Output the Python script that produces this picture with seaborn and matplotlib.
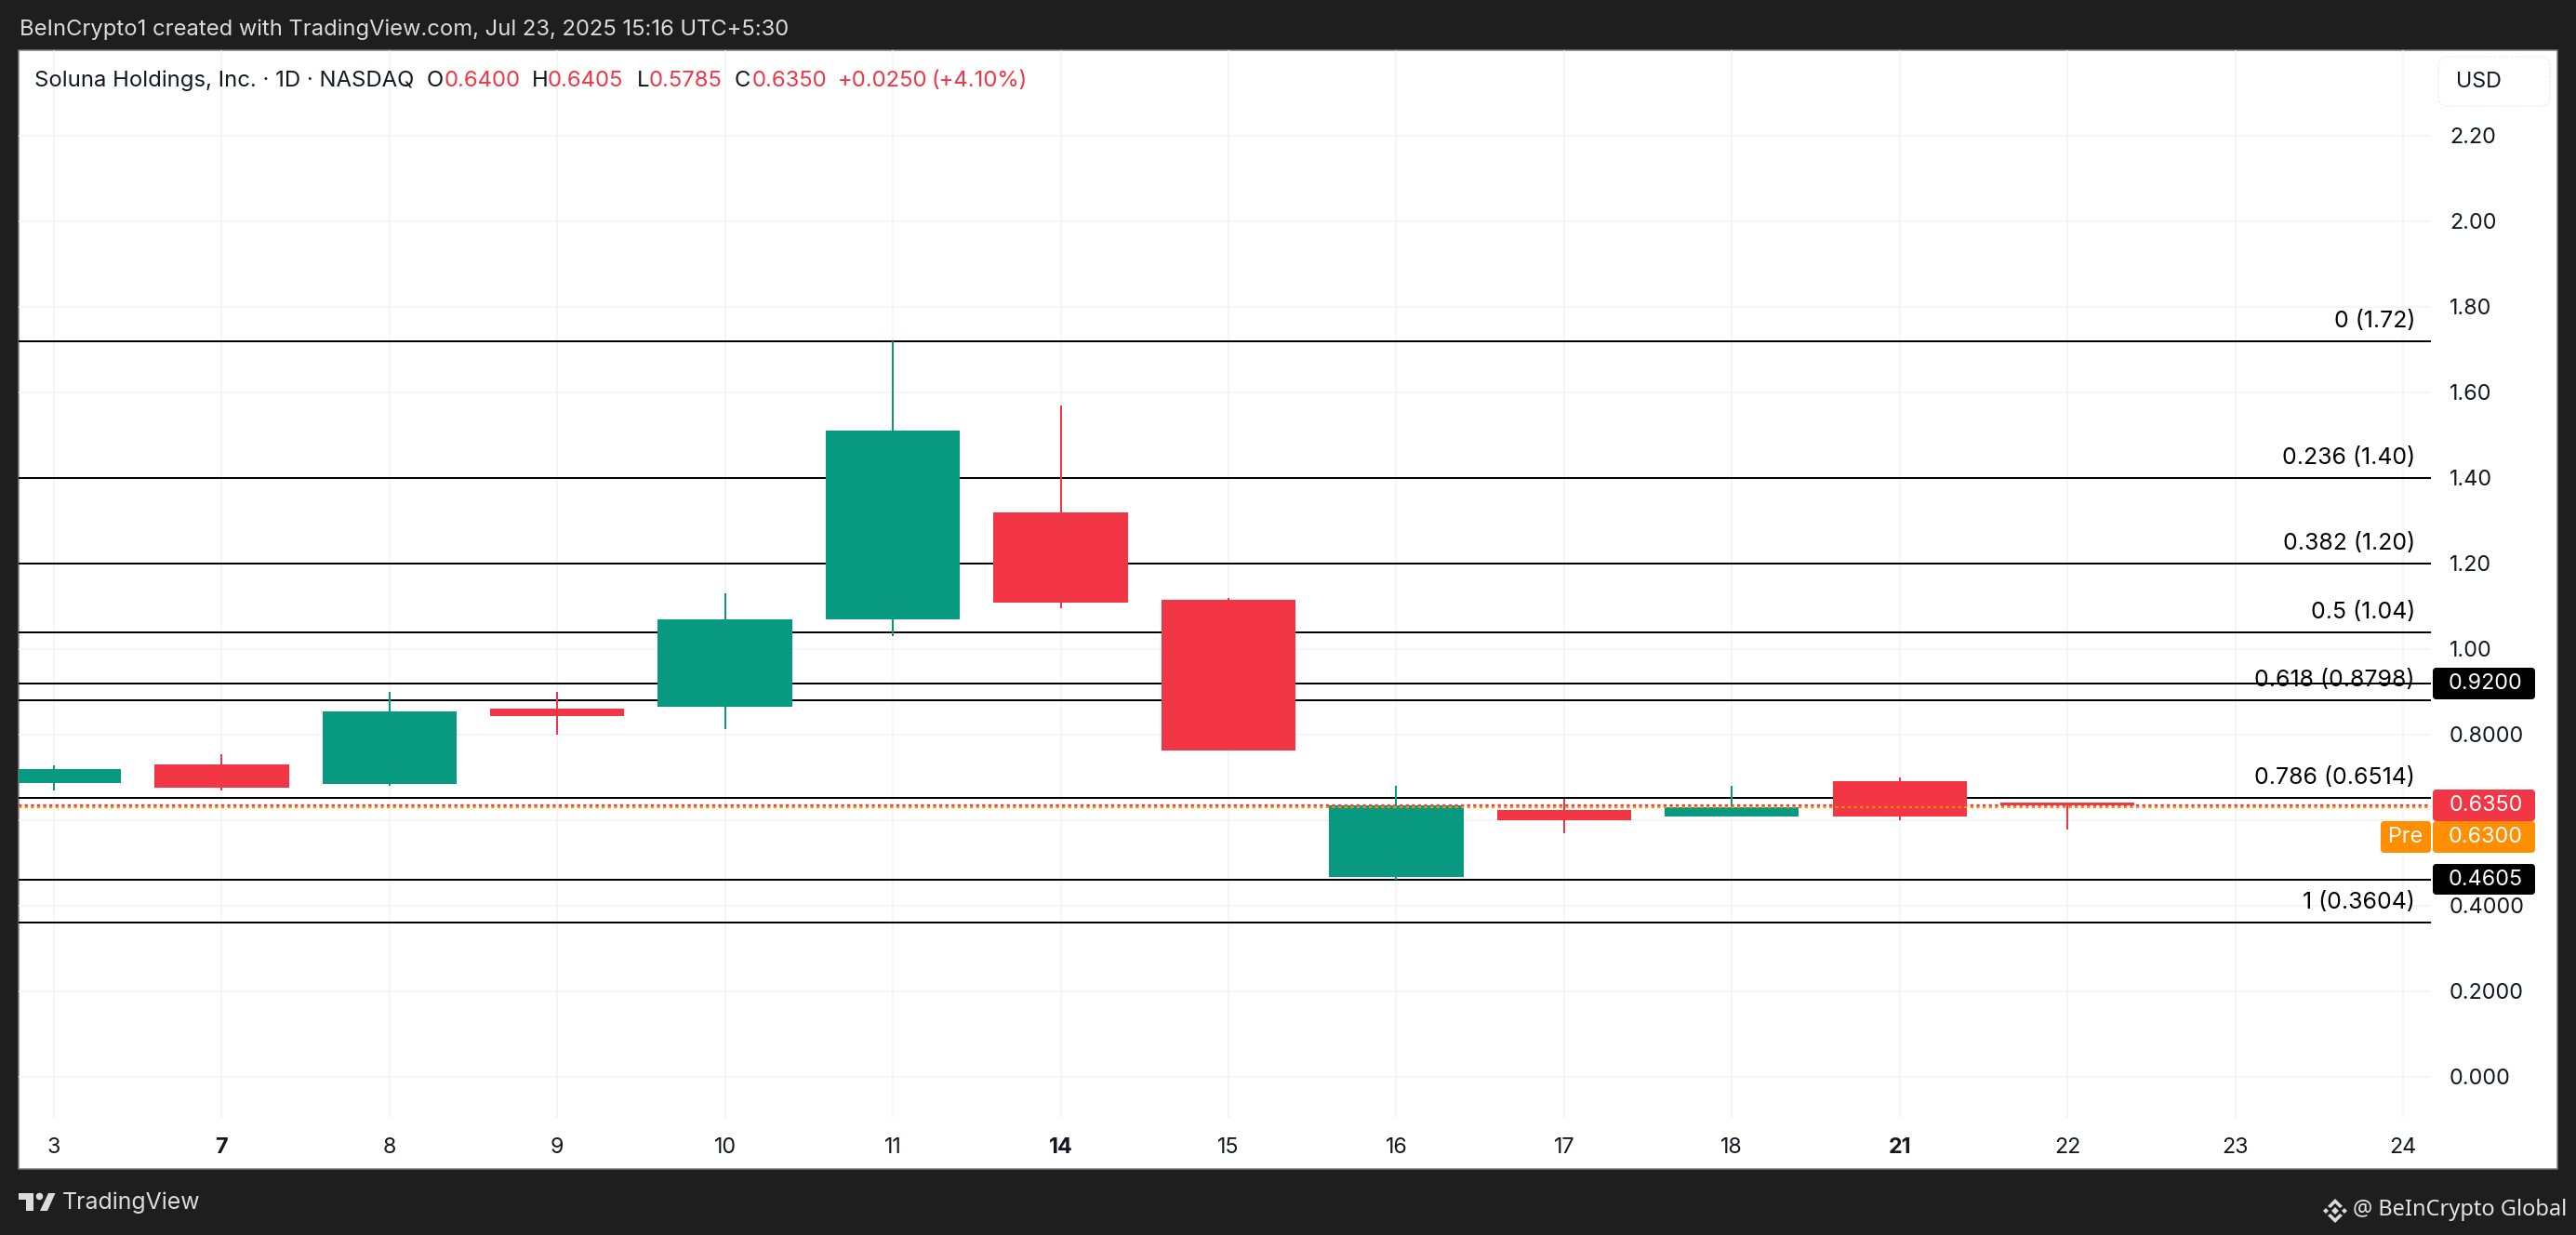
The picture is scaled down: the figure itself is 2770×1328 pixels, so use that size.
import matplotlib
matplotlib.use("Agg")
import matplotlib.pyplot as plt
from matplotlib.patches import Rectangle, FancyBboxPatch, Polygon, Circle
import seaborn as sns
import pandas as pd

# ---- data ----
days = ["3", "7", "8", "9", "10", "11", "14", "15", "16", "17", "18", "21", "22", "23", "24"]
bold_days = ["7", "14", "21"]
candle_days = ["3", "7", "8", "9", "10", "11", "14", "15", "16", "17", "18", "21", "22"]
body_top = [0.72, 0.730, 0.854, 0.861, 1.07, 1.511, 1.32, 1.115, 0.635, 0.624, 0.63, 0.691, 0.6405]
body_bot = [0.687, 0.676, 0.685, 0.8435, 0.866, 1.07, 1.108, 0.763, 0.4674, 0.60, 0.6087, 0.6087, 0.635]
highs = [0.728, 0.754, 0.90, 0.90, 1.13, 1.72, 1.57, 1.12, 0.68, 0.65, 0.68, 0.70, 0.6405]
lows = [0.6696, 0.6696, 0.68, 0.80, 0.813, 1.03, 1.095, 0.763, 0.4615, 0.5696, 0.6087, 0.60, 0.5785]
rising = [True, False, True, False, True, True, False, False, True, False, True, False, False]
fib_levels = [1.72, 1.40, 1.20, 1.04, 0.8798, 0.6514, 0.3604]
fib_labels = ["0 (1.72)", "0.236 (1.40)", "0.382 (1.20)", "0.5 (1.04)", "0.618 (0.8798)", "0.786 (0.6514)", "1 (0.3604)"]
extra_levels = [0.92, 0.4605]
last_price = 0.635
pre_price = 0.63
y_ticks = [2.2, 2.0, 1.8, 1.6, 1.4, 1.2, 1.0, 0.8, 0.6, 0.4, 0.2, 0.0]
y_tick_labels = ["2.20", "2.00", "1.80", "1.60", "1.40", "1.20", "1.00", "0.8000", "", "0.4000", "0.2000", "0.000"]

GREEN, RED, ORANGE = "#089981", "#F23645", "#FF8F00"
DARK, INK, GRID = "#1E1E1E", "#131722", "#F2F3F5"
W, H = 2770, 1328
PX = 72 / 100  # points per pixel at dpi 100

sns.set_theme(style="white")
plt.rcParams["font.family"] = ["Inter", "DejaVu Sans"]

fig = plt.figure(figsize=(W / 100, H / 100), dpi=100, facecolor=DARK)


def box(x0, y0, x1, y1):
    return [x0 / W, 1 - y1 / H, (x1 - x0) / W, (y1 - y0) / H]


# background panel (pixel coordinates)
bg = fig.add_axes([0, 0, 1, 1], zorder=0)
bg.set_xlim(0, W); bg.set_ylim(H, 0); bg.axis("off")
bg.add_patch(Rectangle((20, 54), 2730, 1203, fc="white", ec="#7A7A7A", lw=1.5 * PX))

# main chart
ax = fig.add_axes(box(20, 54, 2614, 1202), zorder=1, facecolor="none")
df = pd.DataFrame({"day": candle_days, "top": body_top, "bot": body_bot, "rising": rising})
df["span"] = df["top"] - df["bot"]
for flag, colour in ((True, GREEN), (False, RED)):
    sub = df[df["rising"] == flag]
    sns.barplot(data=sub, x="day", y="span", order=days, bottom=sub["bot"].to_numpy(),
                color=colour, saturation=1, width=0.8, linewidth=0, errorbar=None,
                ax=ax, zorder=4)

for d, hi, lo, up in zip(candle_days, highs, lows, rising):
    ax.vlines(days.index(d), lo, hi, color=GREEN if up else RED, lw=2 * PX, zorder=3.5)

ax.hlines(fib_levels + extra_levels, 0, 1, transform=ax.get_yaxis_transform(),
          color="black", lw=2 * PX, zorder=3)
for level, label in zip(fib_levels, fib_labels):
    ax.annotate(label, xy=(1, level), xycoords=("axes fraction", "data"),
                xytext=(-17 * PX, 21.5 * PX), textcoords="offset points",
                ha="right", va="center", fontsize=17.9, color="black", zorder=3)

ax.axhline(last_price, color=RED, lw=2.2 * PX, ls=(0, (1.5, 1.5)), dash_capstyle="butt", zorder=5)
ax.axhline(pre_price, color=ORANGE, lw=2.2 * PX, ls=(0, (1.5, 1.5)), dash_capstyle="butt", zorder=5)

ax.set_xlim(-0.21, 14.166)
ax.set_ylim(-0.0957, 2.4)
ax.set_xlabel(""); ax.set_ylabel("")
ax.set_xticks(range(len(days)))
ax.set_xticklabels(days)
ax.yaxis.tick_right()
ax.set_yticks(y_ticks)
ax.set_yticklabels(y_tick_labels)
ax.tick_params(axis="x", length=0, pad=21 * PX, labelsize=16.8, labelcolor=INK)
ax.tick_params(axis="y", length=0, pad=20 * PX, labelsize=16.8, labelcolor=INK, right=False)
for t in ax.get_xticklabels():
    if t.get_text() in bold_days:
        t.set_fontweight("bold")
ax.grid(True, color=GRID, lw=1.5 * PX, zorder=0)
ax.set_axisbelow(True)
for s in ax.spines.values():
    s.set_visible(False)

# overlay (pixel coordinates): header, legend, tags, footer
ov = fig.add_axes([0, 0, 1, 1], zorder=2, facecolor="none")
ov.set_xlim(0, W); ov.set_ylim(H, 0); ov.axis("off")

ov.text(21, 32, "BeInCrypto1 created with TradingView.com, Jul 23, 2025 15:16 UTC+5:30",
        color="#DCDCDC", fontsize=17.1, va="center", ha="left")

legend_parts = [(37, "Soluna Holdings, Inc. · 1D · NASDAQ", INK), (459, "O", INK), (478, "0.6400", RED),
                (572, "H", INK), (589, "0.6405", RED), (685, "L", INK), (698, "0.5785", RED),
                (790, "C", INK), (809, "0.6350", RED), (901, "+0.0250", RED), (1002, "(+4.10%)", RED)]
for x, s, c in legend_parts:
    ov.text(x, 87, s, color=c, fontsize=17.2, va="center", ha="left")


def tag(x0, y0, x1, y1, fc, label, shift=2):
    ov.add_patch(FancyBboxPatch((x0 + 4, y0 + 4), x1 - x0 - 8, y1 - y0 - 8,
                                boxstyle="round,pad=4,rounding_size=4", fc=fc, ec="none"))
    ov.text((x0 + x1) / 2 + shift, (y0 + y1) / 2, label, color="white",
            fontsize=16.8, ha="center", va="center")


tag(2616, 718, 2726, 752, "black", "0.9200")
tag(2616, 849, 2726, 883, RED, "0.6350")
tag(2616, 883, 2726, 917, ORANGE, "0.6300")
tag(2560, 883, 2614, 917, ORANGE, "Pre", shift=0)
tag(2616, 929, 2726, 962, "black", "0.4605")

ov.add_patch(FancyBboxPatch((2632, 71), 100, 33, boxstyle="round,pad=10,rounding_size=10",
                            fc="white", ec="#F0F1F3", lw=1.5 * PX, ls=(0, (2, 1))))
ov.text(2641, 88, "USD", color=INK, fontsize=16.8, va="center", ha="left")

# TradingView logo and word
LOGO = "#DCDCDC"
ov.add_patch(Polygon([(20, 1283), (36, 1283), (36, 1302), (28, 1302), (28, 1290), (20, 1290)], fc=LOGO, ec="none"))
ov.add_patch(Circle((42.5, 1286.5), 3.8, fc=LOGO, ec="none"))
ov.add_patch(Polygon([(52, 1283), (59.5, 1283), (51, 1302), (43, 1302)], fc=LOGO, ec="none"))
ov.text(67, 1293, "TradingView", color=LOGO, fontsize=17.9, va="center", ha="left")

# BeInCrypto footer
MARK = "#DCDCDC"
cx, cy = 2511, 1302
ov.add_patch(Polygon([(cx, cy - 4), (cx + 4, cy), (cx, cy + 4), (cx - 4, cy)], fc=MARK, ec="none"))
ov.add_patch(Polygon([(cx - 13, cy), (cx - 10, cy - 3), (cx - 7, cy), (cx - 10, cy + 3)], fc=MARK, ec="none"))
ov.add_patch(Polygon([(cx + 13, cy), (cx + 10, cy - 3), (cx + 7, cy), (cx + 10, cy + 3)], fc=MARK, ec="none"))
ov.add_patch(Polygon([(cx, cy - 13), (cx + 8, cy - 5), (cx + 5, cy - 3), (cx, cy - 8), (cx - 5, cy - 3), (cx - 8, cy - 5)], fc=MARK, ec="none"))
ov.add_patch(Polygon([(cx, cy + 13), (cx + 8, cy + 5), (cx + 5, cy + 3), (cx, cy + 8), (cx - 5, cy + 3), (cx - 8, cy + 5)], fc=MARK, ec="none"))
ov.text(2530, 1301, "@ BeInCrypto Global", color="#E4E4E4", fontsize=17, family=["Noto Sans", "DejaVu Sans"],
        va="center", ha="left")

fig.savefig("out.png", dpi=100, facecolor=DARK)
